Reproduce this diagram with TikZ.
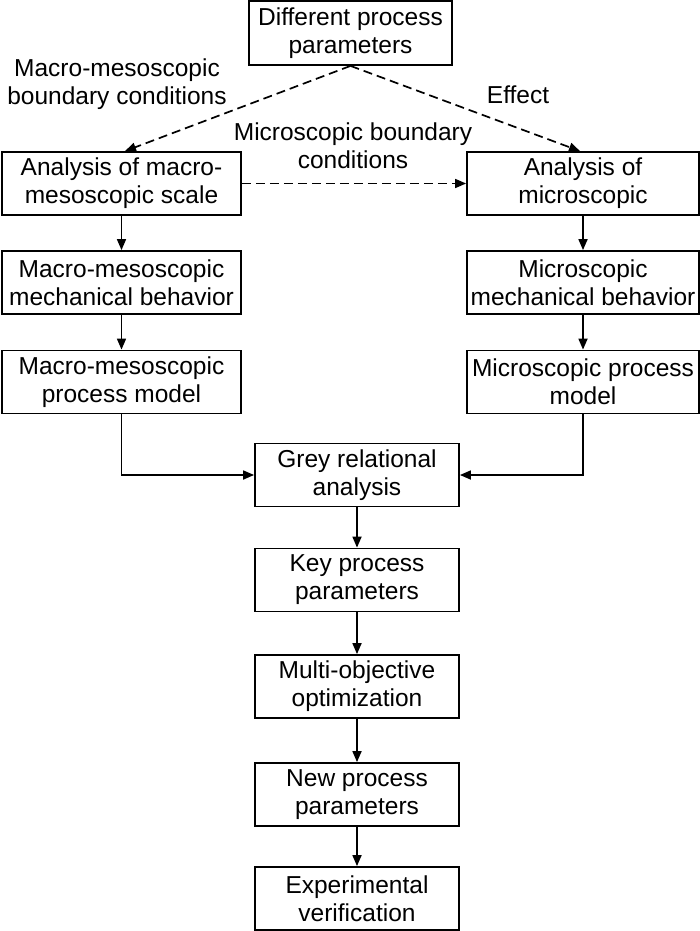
\documentclass[tikz,border=0pt]{standalone}
\usepackage{fontspec}
\setmainfont{Liberation Sans}
\usetikzlibrary{arrows.meta}
\begin{document}
\begin{tikzpicture}[x=1pt,y=-1pt,
  box/.style={draw,line width=1.8pt,inner sep=0pt,align=center,minimum height=63pt,
    font=\fontsize{24.5}{28}\selectfont},
  lbox/.style={box,minimum width=239pt},
  rbox/.style={box,minimum width=232pt},
  cbox/.style={box,minimum width=204pt},
  lab/.style={align=center,inner sep=0pt,font=\fontsize{24.5}{28}\selectfont},
  arr/.style={line width=1.7pt,-{Triangle[length=11pt,width=9pt]}},
  darr/.style={arr,dash pattern=on 9pt off 5pt}]
\useasboundingbox (0,0) rectangle (700,931);
\node[cbox,minimum width=203pt,minimum height=64pt] (top) at (350.5,33) {Different process\\parameters};
\node[lbox] (L1) at (121.5,183.5) {Analysis of macro-\\mesoscopic scale};
\node[rbox] (R1) at (583,183.5) {Analysis of\\microscopic};
\node[lbox] (L2) at (121.5,282.5) {Macro-mesoscopic\\mechanical behavior};
\node[rbox] (R2) at (583,282.5) {Microscopic\\mechanical behavior};
\node[lbox] (L3) at (121.5,382) {Macro-mesoscopic\\process model};
\node[rbox] (R3) at (583,382) {Microscopic process\\model};
\node[cbox] (G) at (357,475) {Grey relational\\analysis};
\node[cbox] (K) at (357,580) {Key process\\parameters};
\node[cbox] (M) at (357,686.5) {Multi-objective\\optimization};
\node[cbox] (N) at (357,794.5) {New process\\parameters};
\node[cbox] (E) at (357,898.5) {Experimental\\verification};
\node[lab] (lab1) at (117,84) {Macro-mesoscopic\\boundary conditions};
\node[lab] (lab2) at (518,95) {Effect};
\node[lab] (lab3) at (353,146) {Microscopic boundary\\conditions};
\draw[darr] (top.south) -- ([xshift=3.5pt]L1.north);
\draw[darr] (top.south) -- ([xshift=-3pt]R1.north);
\draw[darr] (L1.east) -- (R1.west);
\draw[arr] (L1) -- (L2);
\draw[arr] (L2) -- (L3);
\draw[arr] (R1) -- (R2);
\draw[arr] (R2) -- (R3);
\draw[arr] (L3.south) |- (G.west);
\draw[arr] (R3.south) |- (G.east);
\draw[arr] (G) -- (K);
\draw[arr] (K) -- (M);
\draw[arr] (M) -- (N);
\draw[arr] (N) -- (E);
\end{tikzpicture}
\end{document}
